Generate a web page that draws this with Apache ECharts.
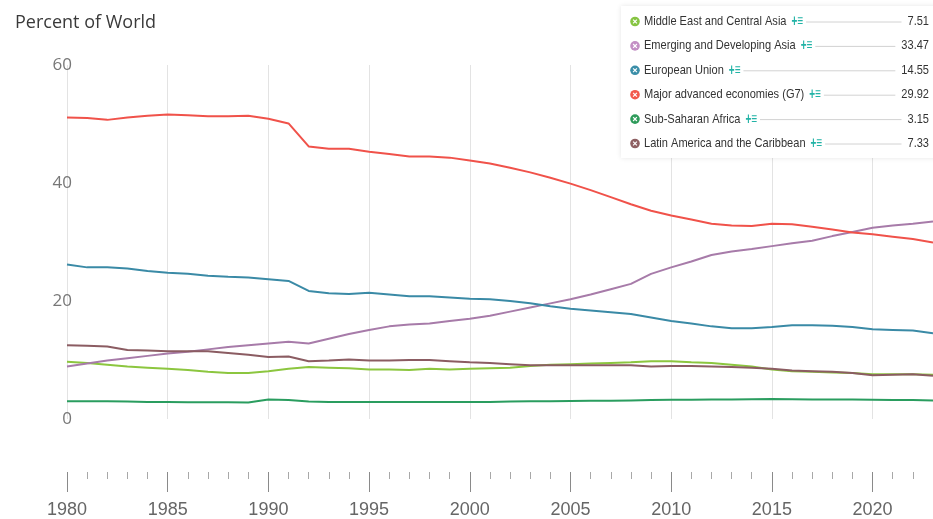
<!DOCTYPE html>
<html lang="en">
<head>
<meta charset="UTF-8">
<title>Percent of World</title>
<script src="https://cdn.jsdelivr.net/npm/echarts@6/dist/echarts.min.js"></script>
<style>
  html, body { margin: 0; padding: 0; background: #fff; }
  #main { width: 933px; height: 519px; }
</style>
</head>
<body>
<div id="main"></div>
<script>
// years on the x axis
var years = [1980, 1981, 1982, 1983, 1984, 1985, 1986, 1987, 1988, 1989,
             1990, 1991, 1992, 1993, 1994, 1995, 1996, 1997, 1998, 1999,
             2000, 2001, 2002, 2003, 2004, 2005, 2006, 2007, 2008, 2009,
             2010, 2011, 2012, 2013, 2014, 2015, 2016, 2017, 2018, 2019,
             2020, 2021, 2022, 2023];

var names = ['Middle East and Central Asia', 'Emerging and Developing Asia', 'European Union',
             'Major advanced economies (G7)', 'Sub-Saharan Africa', 'Latin America and the Caribbean'];
var colors = ['#8cc63f', '#a77ba9', '#3a8aa6', '#f0524a', '#2a9d5f', '#8b5c62'];
var iconColors = ['#86c442', '#c38fc4', '#3a8ea8', '#f2594b', '#2e9b5a', '#8e5f62'];
var lastValues = ['7.51', '33.47', '14.55', '29.92', '3.15', '7.33'];

var middleEast = [9.7, 9.5, 9.2, 8.9, 8.7, 8.5, 8.3, 8.0, 7.8, 7.8,
                  8.1, 8.5, 8.8, 8.7, 8.6, 8.4, 8.4, 8.3, 8.5, 8.4,
                  8.5, 8.6, 8.7, 9.0, 9.2, 9.3, 9.4, 9.5, 9.6, 9.8,
                  9.8, 9.6, 9.5, 9.2, 8.9, 8.4, 8.1, 8.0, 7.9, 7.8,
                  7.6, 7.6, 7.6, 7.51];
var emergingAsia = [8.9, 9.4, 9.9, 10.3, 10.7, 11.1, 11.4, 11.8, 12.2, 12.5,
                    12.8, 13.1, 12.8, 13.6, 14.4, 15.1, 15.7, 16.0, 16.2, 16.6,
                    17.0, 17.5, 18.2, 18.9, 19.6, 20.3, 21.1, 22.0, 22.9, 24.6,
                    25.7, 26.7, 27.8, 28.4, 28.8, 29.3, 29.8, 30.2, 31.0, 31.7,
                    32.4, 32.8, 33.1, 33.47];
var euroUnion = [26.2, 25.7, 25.7, 25.5, 25.1, 24.8, 24.6, 24.3, 24.1, 24.0,
                 23.7, 23.4, 21.7, 21.3, 21.2, 21.4, 21.1, 20.8, 20.8, 20.6,
                 20.4, 20.3, 20.0, 19.6, 19.1, 18.7, 18.4, 18.1, 17.8, 17.2,
                 16.6, 16.2, 15.7, 15.4, 15.4, 15.6, 15.9, 15.9, 15.8, 15.6,
                 15.2, 15.1, 15.0, 14.55];
var g7 = [51.1, 51.0, 50.7, 51.1, 51.4, 51.6, 51.5, 51.3, 51.3, 51.4,
          50.9, 50.1, 46.2, 45.8, 45.8, 45.3, 44.9, 44.5, 44.5, 44.3,
          43.8, 43.3, 42.6, 41.8, 40.9, 39.9, 38.8, 37.6, 36.4, 35.3,
          34.5, 33.8, 33.1, 32.8, 32.7, 33.1, 33.0, 32.6, 32.1, 31.6,
          31.3, 30.9, 30.5, 29.92];
var subSahara = [3.0, 3.0, 3.0, 2.95, 2.9, 2.9, 2.85, 2.85, 2.85, 2.8,
                 3.3, 3.2, 2.95, 2.9, 2.9, 2.9, 2.9, 2.9, 2.9, 2.9,
                 2.9, 2.9, 2.95, 3.0, 3.0, 3.05, 3.1, 3.1, 3.15, 3.2,
                 3.25, 3.25, 3.3, 3.3, 3.35, 3.4, 3.35, 3.3, 3.3, 3.3,
                 3.25, 3.2, 3.2, 3.15];
var latinAmerica = [12.5, 12.4, 12.3, 11.7, 11.6, 11.5, 11.5, 11.5, 11.2, 10.9,
                    10.5, 10.6, 9.8, 9.9, 10.1, 9.9, 9.9, 10.0, 10.0, 9.8,
                    9.6, 9.5, 9.3, 9.1, 9.1, 9.1, 9.1, 9.1, 9.1, 8.9,
                    9.0, 9.0, 8.9, 8.8, 8.7, 8.5, 8.2, 8.1, 8.0, 7.8,
                    7.4, 7.5, 7.6, 7.33];
var allSeries = [middleEast, emergingAsia, euroUnion, g7, subSahara, latinAmerica];

var SANS = "'Open Sans', 'Lato', sans-serif";
var LEG_FAMILY = 'Liberation Sans';
var LEG_SIZE = 13;
var SX = 0.85;   // squeeze legend text, the original uses a condensed face
var PLUS_SX = 0.62;

var cvs = document.createElement('canvas').getContext('2d');
function textW(str, font) { cvs.font = font; return cvs.measureText(str).width; }

// legend drawn by hand: icon, name, "+≡", leader line, last value
var legendEls = [{
  type: 'rect', z: 100,
  shape: { x: 621, y: 6, width: 320, height: 152 },
  style: { fill: '#fff', shadowBlur: 5, shadowColor: 'rgba(0,0,0,0.10)' }
}];
var legFont = LEG_SIZE + 'px ' + LEG_FAMILY;
var plusFont = 'bold 16px ' + LEG_FAMILY;
for (var i = 0; i < names.length; i++) {
  var cy = 21.5 + i * 24.4;
  var nameEnd = 644 + textW(names[i], legFont) * SX;
  var plusEnd = nameEnd + 5 + textW('+\u2261', plusFont) * PLUS_SX;
  var valW = textW(lastValues[i], legFont) * SX;
  legendEls.push(
    { type: 'circle', z: 101, shape: { cx: 635, cy: cy, r: 4.8 }, style: { fill: iconColors[i] } },
    { type: 'line', z: 102, shape: { x1: 633.1, y1: cy - 1.9, x2: 636.9, y2: cy + 1.9 }, style: { stroke: '#fff', lineWidth: 1.2 } },
    { type: 'line', z: 102, shape: { x1: 633.1, y1: cy + 1.9, x2: 636.9, y2: cy - 1.9 }, style: { stroke: '#fff', lineWidth: 1.2 } },
    { type: 'text', z: 101, x: 644, y: cy, scaleX: SX,
      style: { text: names[i], fontSize: LEG_SIZE, fontFamily: LEG_FAMILY, fill: '#333', verticalAlign: 'middle' } },
    { type: 'text', z: 101, x: nameEnd + 5, y: cy, scaleX: PLUS_SX,
      style: { text: '+\u2261', fontSize: 16, fontWeight: 'bold', fontFamily: LEG_FAMILY, fill: '#22b3a6', verticalAlign: 'middle' } },
    { type: 'line', z: 101, shape: { x1: plusEnd + 3, y1: cy + 0.5, x2: 929 - valW - 6, y2: cy + 0.5 },
      style: { stroke: '#d2d2d2', lineWidth: 1 } },
    { type: 'text', z: 101, x: 929, y: cy, scaleX: SX,
      style: { text: lastValues[i], fontSize: LEG_SIZE, fontFamily: LEG_FAMILY, fill: '#333', align: 'right', verticalAlign: 'middle' } }
  );
}

var series = [];
for (var s = 0; s < names.length; s++) {
  var pts = [];
  for (var k = 0; k < years.length; k++) pts.push([years[k], allSeries[s][k]]);
  series.push({
    name: names[s],
    type: 'line',
    data: pts,
    showSymbol: false,
    lineStyle: { color: colors[s], width: 2 },
    itemStyle: { color: colors[s] },
    emphasis: { disabled: true }
  });
}

var myChart = echarts.init(document.getElementById('main'));
var option = {
  animation: false,
  title: {
    text: 'Percent of World',
    left: 10, top: 9,
    textStyle: { fontSize: 18, fontWeight: 'normal', color: '#3a3a3a', fontFamily: SANS }
  },
  grid: { left: 67, right: -3, top: 65, bottom: 99 },
  xAxis: {
    type: 'value',
    min: 1980, max: 2023, interval: 5,
    offset: 53,
    axisLine: { show: false, onZero: false },
    axisTick: { show: true, length: 20, lineStyle: { color: '#8a8a8a' } },
    minorTick: { show: true, splitNumber: 5, length: 7, lineStyle: { color: '#a8a8a8' } },
    splitLine: { show: true, lineStyle: { color: '#e3e3e3', width: 1 } },
    axisLabel: {
      margin: 29, fontSize: 18, color: '#666', fontFamily: 'Liberation Sans',
      showMaxLabel: false,
      formatter: function (v) { return String(v); }
    }
  },
  yAxis: {
    type: 'value',
    min: 0, max: 60, interval: 20,
    axisLine: { show: false },
    axisTick: { show: false },
    splitLine: { show: false },
    axisLabel: { margin: -5, fontSize: 17, color: '#777', fontFamily: SANS }
  },
  graphic: legendEls,
  series: series
};
myChart.setOption(option);
</script>
</body>
</html>
